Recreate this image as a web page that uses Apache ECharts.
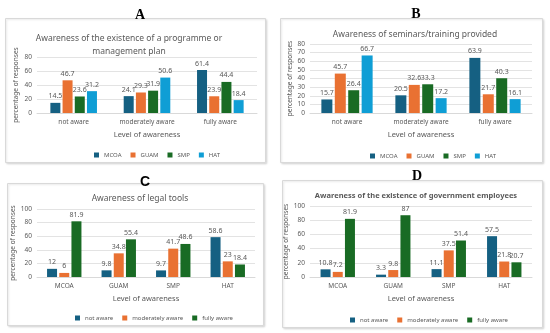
<!DOCTYPE html>
<html><head><meta charset="utf-8">
<script src="https://cdn.jsdelivr.net/npm/echarts@6/dist/echarts.min.js"></script>
<style>html,body{margin:0;padding:0;background:#fff}#c{width:550px;height:333px}</style>
</head><body><div id="c"></div>
<script>
// Panel A / B categories (levels of awareness)
const levelCats = ['not aware', 'moderately aware', 'fully aware'];
const sites = ['MCOA', 'GUAM', 'SMP', 'HAT'];
// Panel A: awareness of programme / management plan
const aMCOA = [14.5, 24.1, 61.4];
const aGUAM = [46.7, 29.3, 23.9];
const aSMP  = [23.6, 31.9, 44.4];
const aHAT  = [31.2, 50.6, 18.4];
// Panel B: awareness of seminars/training
const bMCOA = [15.7, 20.5, 63.9];
const bGUAM = [45.7, 32.6, 21.7];
const bSMP  = [26.4, 33.3, 40.3];
const bHAT  = [66.7, 17.2, 16.1];
// Panel C: legal tools (categories = sites)
const cNot  = [12, 9.8, 9.7, 58.6];
const cMod  = [6, 34.8, 41.7, 23];
const cFull = [81.9, 55.4, 48.6, 18.4];
// Panel D: government employees
const dNot  = [10.8, 3.3, 11.1, 57.5];
const dMod  = [7.2, 9.8, 37.5, 21.8];
const dFull = [81.9, 87, 51.4, 20.7];
const levelNames = ['not aware', 'moderately aware', 'fully aware'];

const siteColors = {MCOA:'#156082', GUAM:'#E97132', SMP:'#196B24', HAT:'#0F9ED5'};
const levelColors = {'not aware':'#156082', 'moderately aware':'#E97132', 'fully aware':'#196B24'};
const txt = '#595959';
const FF = 'Noto Sans';

const chart = echarts.init(document.getElementById('c'));

const grids = [
  {left: 37, right: 293, top: 57, bottom: 220},
  {left: 310, right: 18, top: 44, bottom: 220},
  {left: 37, right: 295, top: 209, bottom: 56},
  {left: 310, right: 18, top: 206, bottom: 56}
];
const yMax = [80, 80, 100, 100];
const yInt = [20, 10, 20, 20];
const nameX = [20, 296, 21, 292];

const xAxes = [], yAxes = [];
const xCats = [levelCats, levelCats, sites, sites];
for (let i = 0; i < 4; i++) {
  xAxes.push({type:'category', gridIndex:i, data:xCats[i],
    axisLine:{lineStyle:{color:'#d9d9d9'}}, axisTick:{show:false},
    axisLabel:{color:txt, fontSize:6.5, fontFamily:FF, margin:6},
    name:'Level of awareness', nameLocation:'middle', nameGap:18,
    nameTextStyle:{color:txt, fontSize:7.5, fontFamily:FF}});
  yAxes.push({type:'value', gridIndex:i, min:0, max:yMax[i], interval:yInt[i],
    axisLine:{show:false}, axisTick:{show:false},
    splitLine:{lineStyle:{color:'#e3e3e3', width:1}},
    axisLabel:{color:txt, fontSize:6.5, fontFamily:FF, margin:5},
    name:'percentage of responses', nameLocation:'middle',
    nameGap: grids[i].left - nameX[i],
    nameTextStyle:{color:txt, fontSize:6.5, fontFamily:FF}});
}

function bar(name, data, idx, color, w) {
  return {type:'bar', name:name, data:data, xAxisIndex:idx, yAxisIndex:idx,
    barWidth:w, barGap:'22%', itemStyle:{color:color},
    label:{show:true, position:'top', color:txt, fontSize:7, fontFamily:FF, distance:3}};
}
const series = [];
const aSets = [aMCOA, aGUAM, aSMP, aHAT];
const bSets = [bMCOA, bGUAM, bSMP, bHAT];
sites.forEach((s, k) => series.push(bar(s, aSets[k], 0, siteColors[s], 10)));
sites.forEach((s, k) => series.push(bar(s, bSets[k], 1, siteColors[s], 11)));
const cSets = [cNot, cMod, cFull];
const dSets = [dNot, dMod, dFull];
levelNames.forEach((l, k) => series.push(bar(l, cSets[k], 2, levelColors[l], 10)));
levelNames.forEach((l, k) => series.push(bar(l, dSets[k], 3, levelColors[l], 10)));

const legendBase = {itemWidth:5, itemHeight:5, itemGap:9, icon:'rect',
  textStyle:{color:txt, fontSize:6, fontFamily:FF}, selectedMode:false};

const boxes = [[5,18,260,144],[280,18,262,144],[7,183,256,142],[282,180,260,147]];

chart.setOption({
  animation:false,
  backgroundColor:'#fff',
  graphic: boxes.map(b => ({type:'rect', z:-10, shape:{x:b[0]+0.5, y:b[1]+0.5, width:b[2], height:b[3]},
    style:{fill:'#fff', stroke:'#d9d9d9', lineWidth:1, shadowBlur:2, shadowColor:'rgba(0,0,0,0.12)', shadowOffsetX:1, shadowOffsetY:1}})),
  title:[
    {text:'A', left:135, top:3, textAlign:'center', textStyle:{fontFamily:'Liberation Serif', fontWeight:'bold', fontSize:14, color:'#000'}},
    {text:'B', left:411, top:2, textAlign:'center', textStyle:{fontFamily:'Liberation Serif', fontWeight:'bold', fontSize:14, color:'#000'}},
    {text:'C', left:140, top:170, textAlign:'center', textStyle:{fontFamily:'Liberation Sans', fontWeight:'bold', fontSize:14, color:'#000'}},
    {text:'D', left:412, top:164, textAlign:'center', textStyle:{fontFamily:'Liberation Serif', fontWeight:'bold', fontSize:14, color:'#000'}},
    {text:'Awareness of the existence of a programme or\nmanagement plan', left:124, top:27, textAlign:'center',
      textStyle:{fontFamily:FF, fontWeight:'normal', fontSize:8.5, color:txt, lineHeight:13}},
    {text:'Awareness of seminars/training provided', left:410, top:25, textAlign:'center',
      textStyle:{fontFamily:FF, fontWeight:'normal', fontSize:8.5, color:txt}},
    {text:'Awareness of legal tools', left:135, top:189, textAlign:'center',
      textStyle:{fontFamily:FF, fontWeight:'normal', fontSize:8.5, color:txt}},
    {text:'Awareness of the existence of government employees', left:411, top:187, textAlign:'center',
      textStyle:{fontFamily:FF, fontWeight:'bold', fontSize:7.5, color:txt}}
  ],
  grid: grids,
  xAxis: xAxes,
  yAxis: yAxes,
  legend:[
    Object.assign({}, legendBase, {data:sites, left:89, top:147}),
    Object.assign({}, legendBase, {data:sites, left:365, top:148}),
    Object.assign({}, legendBase, {data:levelNames, left:70, top:310}),
    Object.assign({}, legendBase, {data:levelNames, left:345, top:312})
  ],
  series: series
});
</script></body></html>
